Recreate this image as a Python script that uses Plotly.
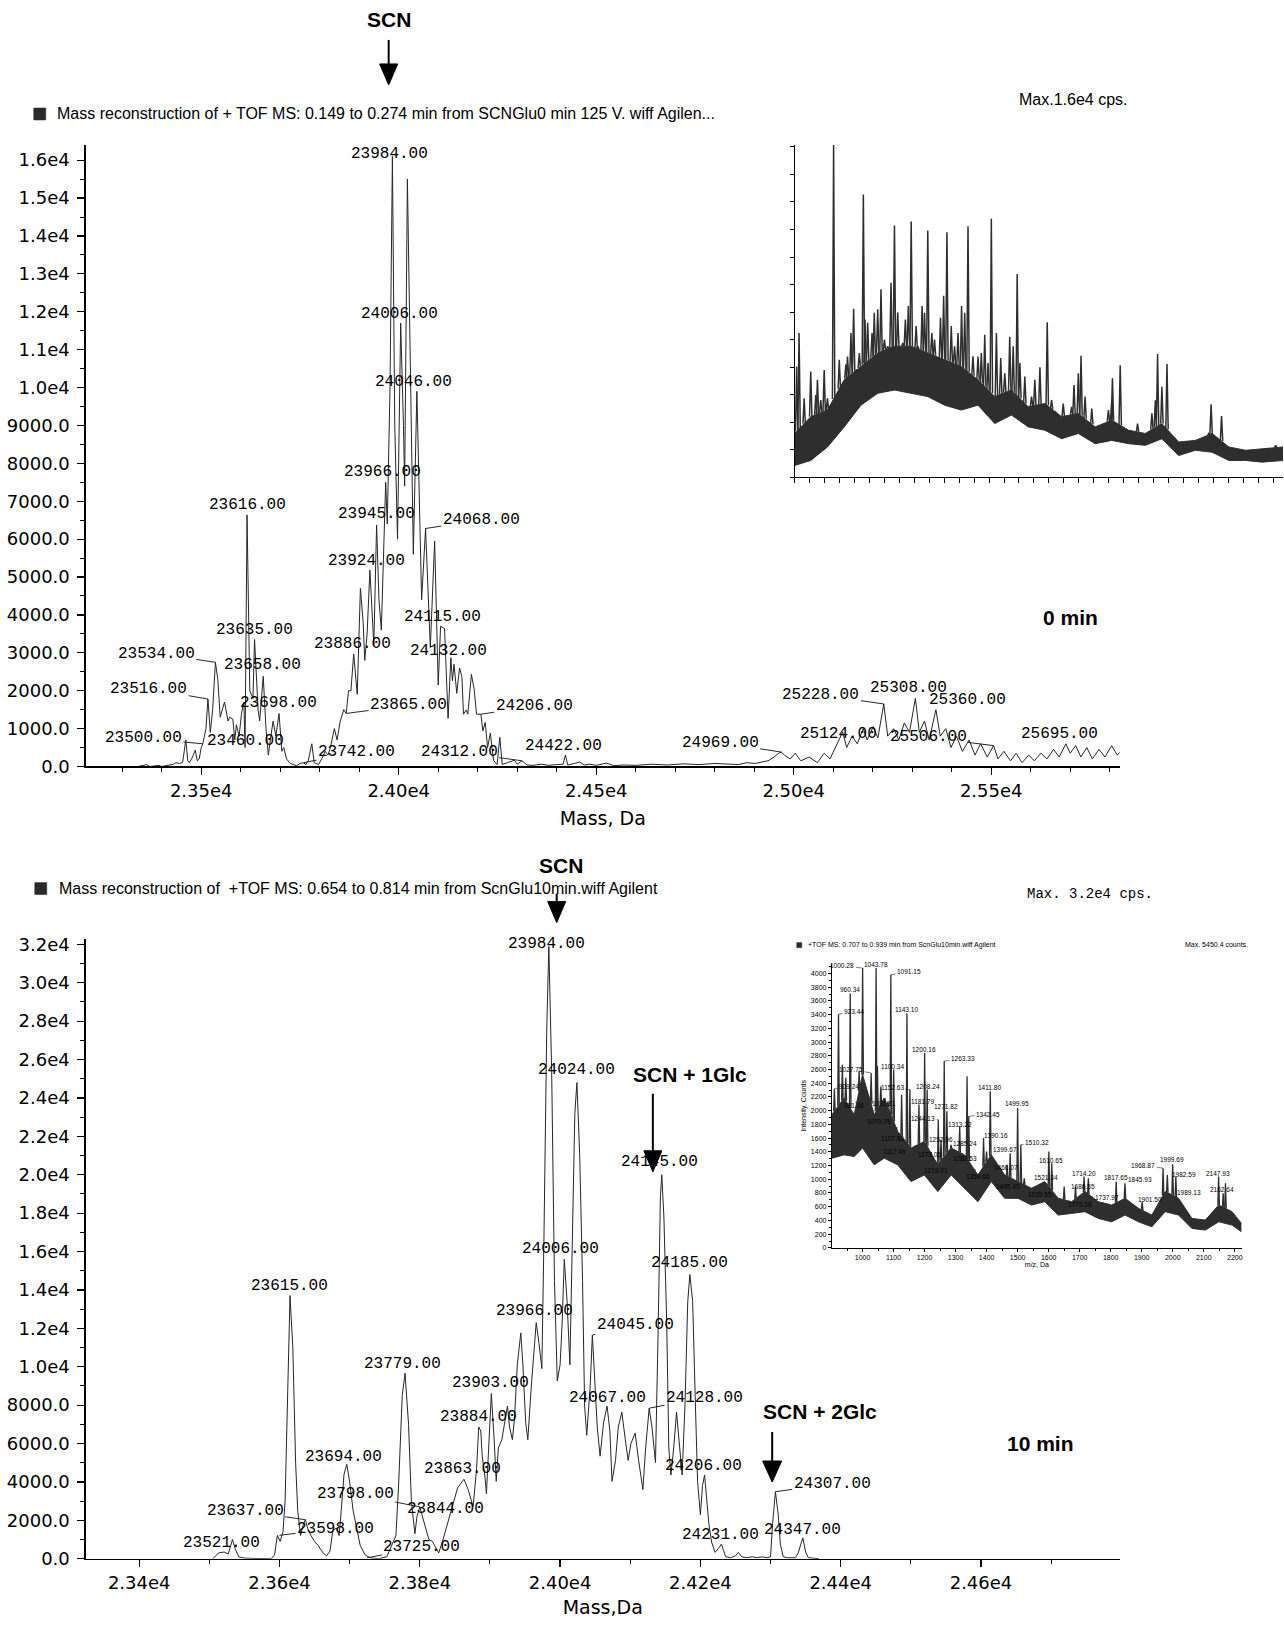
import plotly.graph_objects as go
import numpy as np

W, H = 1284, 1625
XS, XO = 0.9966, 4.35
YS, YO = 0.990, 5.1


def px(x):
    return min(1.0, ((x - XO) / XS) / W)


def py(y):
    return 1 - ((y - YO) / YS) / H


# ---------------- DATA ----------------
# 0 min reconstructed mass spectrum (Mass, Da vs intensity)
top_mass = [23340, 23362, 23370, 23393, 23400, 23419, 23430, 23436, 23445, 23453, 23461, 23466, 23470, 23478,
            23485, 23490, 23495, 23500, 23504, 23512, 23517, 23523, 23529, 23536, 23542, 23548, 23559, 23568,
            23572, 23580, 23585, 23589, 23596, 23602, 23608, 23611, 23616, 23623, 23631, 23635, 23644, 23648,
            23657, 23664, 23670, 23675, 23682, 23689, 23697, 23704, 23709, 23716, 23725, 23742, 23750, 23759,
            23765, 23771, 23780, 23786, 23797, 23805, 23814, 23821, 23827, 23837, 23844, 23852, 23861, 23867,
            23873, 23879, 23886, 23895, 23903, 23910, 23914, 23920, 23927, 23933, 23937, 23944, 23950, 23956,
            23963, 23967, 23971, 23978, 23984, 23990, 23997, 24005, 24012, 24015, 24022, 24031, 24037, 24046,
            24052, 24058, 24068, 24080, 24091, 24100, 24106, 24116, 24125, 24132, 24136, 24140, 24147, 24154,
            24160, 24164, 24171, 24175, 24184, 24191, 24197, 24208, 24213, 24219, 24225, 24232, 24240, 24249,
            24256, 24262, 24275, 24293, 24300, 24312, 24325, 24340, 24362, 24380, 24400, 24416, 24422, 24428,
            24445, 24458, 24470, 24484, 24500, 24526, 24545, 24568, 24600, 24640, 24680, 24720, 24760, 24800,
            24840, 24861, 24880, 24903, 24920, 24935, 24950, 24962, 24969, 24976, 24991, 25004, 25018, 25039,
            25060, 25077, 25092, 25109, 25124, 25134, 25148, 25161, 25176, 25186, 25201, 25213, 25228, 25238,
            25253, 25266, 25280, 25293, 25308, 25318, 25331, 25343, 25360, 25371, 25385, 25398, 25412, 25427,
            25444, 25459, 25473, 25490, 25506, 25517, 25532, 25549, 25563, 25578, 25595, 25609, 25626, 25641,
            25658, 25672, 25689, 25700, 25714, 25727, 25742, 25756, 25773, 25788, 25805, 25819, 25836]
top_int = [0, 50, 0, 30, 0, 40, 60, 100, 80, 110, 700, 150, 100, 250,
           430, 150, 200, 500, 600, 1000, 1780, 900, 1500, 2750, 2300, 1300, 1700, 1200,
           1300, 1250, 700, 1100, 800, 1400, 1700, 500, 6640, 2000, 1800, 3350, 1500, 1200,
           2380, 1000, 300, 700, 1200, 800, 1400, 400, 500, 200, 80, 20, 80, 100,
           50, 150, 600, 100, 50, 200, 400, 300, 500, 1000, 700, 1200, 1500, 1400,
           2000, 2000, 2970, 1900, 4700, 3800, 2800, 3500, 5180, 4000, 3200, 6370, 4400, 3600,
           6500, 7500, 6400, 10000, 16100, 9000, 6000, 11700, 9000, 7400, 15500, 10000, 5600, 9900,
           7000, 4400, 6280, 3140, 5950, 2150, 3700, 3640, 1270, 2870, 2260, 2700, 1930, 2600,
           2370, 1380, 1490, 1380, 2430, 2040, 1380, 1380, 940, 1160, 500, 880, 165, 50,
           770, 55, 100, 165, 60, 150, 40, 30, 60, 30, 50, 60, 300, 40,
           80, 120, 40, 60, 30, 90, 20, 40, 30, 60, 40, 70, 50, 80,
           60, 50, 100, 80, 120, 150, 250, 350, 380, 300, 200, 350, 150, 250,
           100, 350, 200, 600, 910, 500, 800, 600, 1000, 700, 1050, 750, 1650, 800,
           1000, 700, 1150, 900, 1800, 900, 1200, 700, 1500, 800, 1000, 500, 800, 400,
           700, 300, 600, 250, 550, 200, 400, 150, 350, 100, 300, 150, 350, 200,
           450, 250, 600, 350, 550, 250, 500, 200, 450, 250, 550, 300, 500]

# 10 min reconstructed mass spectrum
bot_mass = [23505, 23513, 23521, 23527, 23533, 23537, 23542, 23550, 23559, 23588, 23593, 23597, 23601, 23605,
            23608, 23612, 23615, 23619, 23623, 23626, 23630, 23634, 23637, 23640, 23645, 23650, 23655, 23662,
            23667, 23672, 23676, 23681, 23685, 23688, 23692, 23696, 23700, 23705, 23710, 23715, 23722, 23729,
            23741, 23753, 23760, 23766, 23770, 23775, 23779, 23784, 23788, 23793, 23796, 23800, 23803, 23807,
            23813, 23818, 23823, 23827, 23833, 23840, 23847, 23854, 23863, 23869, 23876, 23881, 23884, 23887,
            23889, 23893, 23895, 23898, 23902, 23906, 23909, 23912, 23917, 23922, 23925, 23928, 23932, 23935,
            23939, 23944, 23947, 23951, 23954, 23959, 23963, 23966, 23970, 23974, 23977, 23981, 23984, 23988,
            23992, 23996, 24000, 24003, 24006, 24010, 24014, 24017, 24021, 24024, 24028, 24032, 24035, 24038,
            24043, 24046, 24050, 24053, 24057, 24062, 24067, 24071, 24074, 24079, 24083, 24088, 24093, 24097,
            24101, 24107, 24112, 24118, 24122, 24127, 24131, 24136, 24140, 24143, 24145, 24148, 24152, 24155,
            24158, 24162, 24166, 24170, 24174, 24178, 24182, 24185, 24189, 24193, 24196, 24200, 24203, 24206,
            24209, 24212, 24216, 24221, 24226, 24230, 24233, 24236, 24243, 24250, 24254, 24259, 24266, 24274,
            24281, 24288, 24295, 24300, 24303, 24307, 24311, 24314, 24318, 24324, 24335, 24339, 24346, 24350,
            24354, 24369]
bot_int = [0, 300, 350, 250, 1000, 500, 100, 30, 20, 0, 200, 1220, 900, 1400,
           3000, 10000, 13700, 11000, 5000, 2500, 1200, 1800, 2030, 1600, 1200, 900, 700, 300,
           150, 400, 1450, 1600, 1200, 2500, 4400, 4920, 4000, 2500, 1500, 700, 200, 50,
           0, 100, 700, 1200, 4000, 8500, 9660, 7000, 3000, 1300, 2200, 2700, 2300, 1800,
           1000, 900, 600, 300, 980, 1850, 2720, 3700, 4140, 3600, 2720, 4680, 6860, 6650,
           5340, 4250, 3380, 5500, 8600, 6200, 4030, 5770, 6200, 7300, 7950, 6860, 6200, 7300,
           10100, 11760, 10100, 7080, 6200, 9000, 11200, 12300, 11200, 9900, 16700, 27600, 31900, 25400,
           14500, 9260, 10100, 12300, 15600, 13400, 10100, 16700, 23200, 24800, 21000, 14500, 7950, 6430,
           9040, 11650, 9040, 6860, 5340, 7080, 7950, 6650, 4030, 5120, 6860, 7630, 6200, 5120,
           6000, 6540, 5120, 3600, 5770, 7840, 6860, 5010, 12300, 18850, 20000, 17800, 12300, 5770,
           4360, 5770, 7630, 6000, 4360, 7950, 13400, 14800, 13400, 7950, 4030, 2290, 3810, 4360,
           3160, 1850, 870, 330, 545, 760, 435, 110, 50, 150, 330, 100, 50, 100,
           50, 100, 50, 100, 1850, 3490, 2290, 760, 110, 50, 50, 250, 1090, 350,
           50, 0]

# inset of the 0 min run (raw spectrum, read in tick-mark units)
ti_x = [0, 1.07, 2.19, 3.31, 4.43, 5.55, 6.67, 7.79, 8.90, 10.02, 11.14, 12.26, 13.38, 14.50, 15.62,
        16.73, 17.85, 18.97, 20.09, 21.21, 22.33, 23.45, 24.56, 25.68, 26.80, 27.92, 29.04, 30.16,
        31.27, 32.66]
ti_low = [0.43, 0.61, 1.10, 1.83, 2.62, 3.05, 3.17, 3.05, 2.93, 2.62, 2.44, 2.62, 1.95, 2.26, 1.83,
          1.71, 1.40, 1.59, 1.22, 1.34, 1.22, 1.16, 1.40, 0.79, 0.98, 0.91, 0.61, 0.61, 0.55, 0.61]
ti_high = [1.59, 2.20, 2.44, 3.54, 4.02, 4.51, 4.76, 4.76, 4.51, 4.27, 4.02, 3.54, 2.93, 3.17, 2.56,
           2.68, 2.20, 2.32, 1.83, 2.07, 1.71, 1.59, 1.95, 1.28, 1.34, 1.59, 1.10, 0.98, 1.04, 1.10]
ti_spike_x = [0.13, 0.29, 0.63, 1.07, 1.41, 1.52, 1.74, 1.97, 2.19, 2.60, 2.98, 3.42, 3.53, 3.76, 3.94,
              4.20, 4.32, 4.59, 4.70, 4.88, 5.17, 5.32, 5.55, 5.77, 6.00, 6.22, 6.44, 6.67, 6.89, 7.23,
              7.40, 7.60, 7.79, 8.12, 8.23, 8.52, 8.68, 8.90, 9.17, 9.35, 9.75, 9.96, 10.18, 10.47,
              10.69, 10.92, 11.16, 11.37, 11.59, 11.92, 12.26, 12.48, 12.71, 12.93, 13.15, 13.49,
              13.78, 14.05, 14.38, 14.61, 14.88, 15.06, 15.39, 15.84, 16.06, 16.40, 16.89, 17.18,
              17.40, 17.96, 18.52, 18.68, 18.97, 19.15, 19.42, 19.87, 20.98, 21.21, 21.25, 21.77,
              22.93, 23.89, 24.12, 24.27, 24.56, 24.90, 27.70, 27.85, 28.55, 31.70, 32.17]
ti_spike_h = [4.02, 5.24, 2.87, 3.84, 2.99, 3.54, 2.80, 3.90, 2.87, 12.07, 4.27, 4.09, 4.39, 5.24, 6.12,
              3.78, 4.51, 10.27, 5.73, 5.61, 5.24, 5.98, 6.10, 6.83, 5.00, 4.76, 7.07, 9.15, 5.98, 4.88,
              5.73, 6.22, 9.29, 5.49, 4.76, 6.22, 5.98, 8.96, 5.24, 5.00, 5.79, 6.59, 8.90, 5.49,
              4.76, 5.24, 6.22, 5.98, 9.12, 4.39, 4.39, 4.51, 5.18, 4.15, 9.39, 5.24,
              4.33, 3.78, 5.10, 4.76, 7.38, 4.15, 3.66, 2.93, 3.54, 4.00, 5.63, 2.80,
              2.32, 2.68, 2.56, 3.35, 3.78, 4.41, 2.93, 2.50, 2.44, 2.80, 3.60, 4.07,
              1.95, 2.32, 2.80, 4.48, 3.29, 4.11, 1.59, 2.65, 2.22, 0.98, 1.16]

# inset of the 10 min run (m/z, Da vs Intensity, Counts)
bi_mz = [901, 940.7, 973, 1000, 1037.7, 1070, 1113.2, 1156.3, 1199.5, 1242.6, 1285.7, 1328.8, 1372,
         1415.1, 1458.2, 1501.3, 1544.5, 1587.6, 1630.7, 1673.9, 1717, 1760.1, 1803.2, 1846.4, 1889.5,
         1932.6, 1975.7, 2018.9, 2062, 2105.1, 2148.2, 2191.4, 2221.5]
bi_low = [1307, 1356, 1332, 1454, 1210, 1307, 1210, 966, 1063, 820, 1063, 868, 673, 966, 722, 722, 624,
          673, 478, 502, 527, 429, 380, 478, 380, 307, 527, 478, 283, 259, 380, 332, 234]
bi_high = [1941, 2185, 1941, 2527, 1941, 2185, 1698, 1454, 1551, 1210, 1454, 1356, 1063, 1356, 1063, 966,
           868, 966, 722, 673, 820, 673, 624, 722, 576, 478, 820, 722, 429, 405, 624, 527, 356]
bi_spike_mz = [909.24, 922.5, 935, 946, 960.34, 981.68, 989, 1000.28, 1027.75, 1043.78, 1048, 1059,
               1070.75, 1081.81, 1091.15, 1100.34, 1107.85, 1117.49, 1126, 1143.10, 1152.63, 1173.05,
               1181.79, 1200.16, 1208.24, 1219.01, 1244.13, 1252.96, 1263.33, 1271.82, 1282.53, 1285.24,
               1313.22, 1337, 1342.45, 1359.66, 1390.16, 1399.67, 1411.80, 1445.45, 1466.07, 1476,
               1499.95, 1510.32, 1521.34, 1539.55, 1600.65, 1610, 1650, 1686.55, 1714.20, 1728, 1737.97,
               1773.58, 1817.65, 1845.93, 1901.50, 1968.87, 1982.59, 1989.13, 1999.69, 2010, 2147.93,
               2162.64, 2170]
bi_spike_int = [2320, 3405, 2670, 2480, 3707, 2088, 2580, 4078, 2550, 4078, 2650, 2350,
                1844, 2137, 3980, 2600, 1624, 1454, 2230, 3415, 2307, 1356,
                2088, 2844, 2307, 1137, 1868, 1576, 2722, 1990, 1307, 1502,
                1771, 2502, 1917, 1063, 1600, 1405, 2283, 966, 1210, 1380,
                2039, 1502, 1015, 820, 1405, 1234, 893, 893, 1039, 1015, 722,
                649, 966, 941, 673, 1161, 1063, 795, 1220, 1039, 1039,
                795, 941]

top_xtick_vals = [23500, 24000, 24500, 25000, 25500]
top_xtick_text = ["2.35e4", "2.40e4", "2.45e4", "2.50e4", "2.55e4"]
top_ytick_vals = list(range(0, 16001, 1000))
top_ytick_text = ["0.0", "1000.0", "2000.0", "3000.0", "4000.0", "5000.0", "6000.0", "7000.0", "8000.0",
                  "9000.0", "1.0e4", "1.1e4", "1.2e4", "1.3e4", "1.4e4", "1.5e4", "1.6e4"]
bot_xtick_vals = [23400, 23600, 23800, 24000, 24200, 24400, 24600]
bot_xtick_text = ["2.34e4", "2.36e4", "2.38e4", "2.40e4", "2.42e4", "2.44e4", "2.46e4"]
bot_ytick_vals = list(range(0, 32001, 2000))
bot_ytick_text = ["0.0", "2000.0", "4000.0", "6000.0", "8000.0", "1.0e4", "1.2e4", "1.4e4", "1.6e4",
                  "1.8e4", "2.0e4", "2.2e4", "2.4e4", "2.6e4", "2.8e4", "3.0e4", "3.2e4"]

# peak labels: (mass, label x, label y, leader head or None)
top_labels = [
    (23984, 23977, 16465, None), (24006, 24001, 11950, None), (24046, 24038, 10150, None),
    (23966, 23959, 7770, None), (23616, 23617, 6890, None), (23945, 23943, 6650, None),
    (24068, 24209, 6510, (24068, 6280)), (23924, 23919, 5415, None), (24115, 24111, 3940, None),
    (23635, 23635, 3610, None), (23534, 23386, 2980, (23536, 2750)), (23886, 23883, 3230, None),
    (24132, 24125, 3060, None), (23658, 23656, 2680, None), (23516, 23367, 2050, (23517, 1780)),
    (25228, 25069, 1890, (25228, 1650)), (25308, 25290, 2080, None), (25360, 25440, 1750, (25360, 1500)),
    (23698, 23696, 1670, None), (23865, 24025, 1615, (23867, 1400)), (24206, 24343, 1590, (24208, 1380)),
    (25124, 25113, 850, None), (25506, 25340, 770, (25506, 550)), (25695, 25674, 850, None),
    (24969, 24814, 630, (24969, 380)), (23500, 23354, 740, (23504, 600)), (23460, 23612, 680, None),
    (23742, 23893, 380, (23759, 100)), (24312, 24153, 380, (24312, 150)), (24422, 24416, 550, None),
]
bot_labels = [
    (23984, 23981, 32590, None), (24024, 24024, 25450, None), (24145, 24142, 20680, None),
    (24006, 24001, 16130, None), (24185, 24184, 15380, None), (23615, 23614, 14180, None),
    (23966, 23964, 12890, None), (24045, 24107, 12180, (24046, 11650)), (23779, 23776, 10120, None),
    (23903, 23901, 9150, None), (24067, 24067, 8390, None), (24128, 24206, 8390, (24127, 7840)),
    (23884, 23883, 7360, None), (23694, 23691, 5310, None), (24206, 24204, 4820, None),
    (23863, 23861, 4660, None), (24307, 24388, 3900, (24307, 3490)), (23798, 23708, 3360, (23800, 2700)),
    (23844, 23837, 2600, None), (23637, 23551, 2490, (23637, 2030)), (24347, 24345, 1516, None),
    (23598, 23680, 1570, (23600, 1220)), (24231, 24228, 1245, None), (23521, 23517, 812, None),
    (23725, 23803, 595, (23725, 50)),
]
inset_labels = [
    ("1000.28", 935.3, 4112, (1000.28, 4078)), ("1043.78", 1043.1, 4137, None),
    ("1091.15", 1151, 4029, (1091.15, 3980)), ("960.34", 960.1, 3771, None),
    ("923.44", 973, 3444, (922.5, 3405)), ("1143.10", 1140.2, 3478, None),
    ("1200.16", 1199.5, 2893, None), ("1263.33", 1323.5, 2756, (1263.33, 2722)),
    ("1027.75", 962.3, 2600, (1027.75, 2550)), ("1100.34", 1097, 2644, None),
    ("909.24", 956.9, 2356, (909.24, 2320)), ("1152.63", 1097, 2332, (1152.63, 2307)),
    ("1208.24", 1210.2, 2346, None), ("1411.80", 1409.7, 2332, None),
    ("981.68", 973, 2073, None), ("1081.81", 1070, 2102, None), ("1181.79", 1194, 2127, None),
    ("1271.82", 1269.5, 2054, None), ("1499.95", 1498, 2102, None), ("1070.75", 1054, 1844, None),
    ("1244.13", 1196, 1893, (1244.13, 1868)), ("1342.45", 1404, 1951, (1342.45, 1917)),
    ("1313.22", 1312.7, 1805, None), ("1107.85", 1097, 1600, None), ("1252.96", 1253.4, 1576, None),
    ("1390.16", 1431, 1634, (1390.16, 1600)), ("1285.24", 1328.8, 1517, None),
    ("1510.32", 1562.8, 1541, (1510.32, 1502)), ("1117.49", 1102.4, 1405, None),
    ("1173.05", 1215.6, 1356, None), ("1399.67", 1458, 1429, None), ("1282.53", 1328.8, 1298, None),
    ("1610.65", 1609, 1268, None), ("1219.01", 1237, 1127, None), ("1466.07", 1463.6, 1176, None),
    ("1359.66", 1372, 1039, None), ("1521.34", 1593, 1029, None), ("1714.20", 1714.8, 1078, None),
    ("1968.87", 1905.7, 1205, (1968.87, 1161)), ("1999.69", 1997.3, 1283, None),
    ("1982.59", 2035, 1063, None), ("2147.93", 2146, 1088, None), ("1445.45", 1469, 893, None),
    ("1686.55", 1711.6, 893, None), ("1817.65", 1816, 1029, None), ("1845.93", 1894.9, 990, None),
    ("1539.55", 1571.4, 771, None), ("1737.97", 1787, 741, None), ("1901.50", 1927, 712, None),
    ("1773.58", 1700.8, 639, None), ("1989.13", 2051.2, 810, None), ("2162.64", 2159, 854, None),
]

# ---------------- FIGURE ----------------
INK = '#262626'
fig = go.Figure()

fig.add_trace(go.Scatter(x=top_mass, y=top_int, mode='lines', line=dict(color=INK, width=1),
                         xaxis='x', yaxis='y', showlegend=False, hoverinfo='skip'))
fig.add_trace(go.Scatter(x=bot_mass, y=bot_int, mode='lines', line=dict(color=INK, width=1),
                         xaxis='x3', yaxis='y3', showlegend=False, hoverinfo='skip'))


def spikes(sx, sh, env_x, env_y, w):
    xs, ys = [], []
    for x, h in zip(sx, sh):
        b = float(np.interp(x, env_x, env_y))
        xs += [x - w, x, x + w, None]
        ys += [b, h, b, None]
    return xs, ys


BAND = '#2e2e2e'
fig.add_trace(go.Scatter(x=ti_x, y=ti_low, mode='lines', line=dict(color=BAND, width=1),
                         xaxis='x2', yaxis='y2', showlegend=False, hoverinfo='skip'))
fig.add_trace(go.Scatter(x=ti_x, y=ti_high, mode='lines', line=dict(color=BAND, width=1), fill='tonexty',
                         fillcolor=BAND, xaxis='x2', yaxis='y2', showlegend=False, hoverinfo='skip'))
sx, sy = spikes(ti_spike_x, ti_spike_h, ti_x, ti_high, 0.08)
fig.add_trace(go.Scatter(x=sx, y=sy, mode='lines', line=dict(color=BAND, width=1.5),
                         xaxis='x2', yaxis='y2', showlegend=False, hoverinfo='skip'))
fig.add_trace(go.Scatter(x=bi_mz, y=bi_low, mode='lines', line=dict(color=BAND, width=1),
                         xaxis='x4', yaxis='y4', showlegend=False, hoverinfo='skip'))
fig.add_trace(go.Scatter(x=bi_mz, y=bi_high, mode='lines', line=dict(color=BAND, width=1), fill='tonexty',
                         fillcolor=BAND, xaxis='x4', yaxis='y4', showlegend=False, hoverinfo='skip'))
sx, sy = spikes(bi_spike_mz, bi_spike_int, bi_mz, bi_high, 2.5)
fig.add_trace(go.Scatter(x=sx, y=sy, mode='lines', line=dict(color=BAND, width=1.3),
                         xaxis='x4', yaxis='y4', showlegend=False, hoverinfo='skip'))

TICKF = dict(family='DejaVu Sans', size=18, color='black')
main_ax = dict(showline=True, linecolor='black', linewidth=1.5, ticks='outside', tickcolor='black',
               ticklen=7, tickwidth=1.2, showgrid=False, zeroline=False, tickfont=TICKF, fixedrange=True)
TITLEF = dict(family='DejaVu Sans', size=19, color='black')
TOP_YMAX = 16400
BOT_YMAX = 32300
SMALLTF = dict(family='Liberation Sans', size=7, color='black')

layout = dict(
    width=W, height=H, margin=dict(l=0, r=0, t=0, b=0), autosize=False,
    paper_bgcolor='white', plot_bgcolor='white', showlegend=False,
    xaxis=dict(main_ax, domain=[px(90), px(1121)], range=[23208, 25825], anchor='y',
               tickmode='array', tickvals=top_xtick_vals, ticktext=top_xtick_text,
               minor=dict(tickmode='linear', tick0=23000, dtick=100, ticks='outside', ticklen=4,
                          tickcolor='black', tickwidth=1),
               title=dict(text='Mass, Da', font=TITLEF, standoff=12)),
    yaxis=dict(main_ax, domain=[py(766), py(145)], range=[0, TOP_YMAX], anchor='x',
               tickmode='array', tickvals=top_ytick_vals, ticktext=top_ytick_text, ticklabelstandoff=4,
               minor=dict(tickmode='linear', tick0=0, dtick=500, ticks='outside', ticklen=4,
                          tickcolor='black', tickwidth=1)),
    xaxis3=dict(main_ax, domain=[px(90), px(1121)], range=[23324, 24797.6], anchor='y3',
                tickmode='array', tickvals=bot_xtick_vals, ticktext=bot_xtick_text,
                minor=dict(tickmode='linear', tick0=23000, dtick=100, ticks='outside', ticklen=4,
                           tickcolor='black', tickwidth=1),
                title=dict(text='Mass,Da', font=TITLEF, standoff=9)),
    yaxis3=dict(main_ax, domain=[py(1557.6), py(938)], range=[0, BOT_YMAX], anchor='x3',
                tickmode='array', tickvals=bot_ytick_vals, ticktext=bot_ytick_text, ticklabelstandoff=4,
                minor=dict(tickmode='linear', tick0=0, dtick=1000, ticks='outside', ticklen=4,
                           tickcolor='black', tickwidth=1)),
    xaxis2=dict(domain=[px(797), 1.0], range=[0, 32.66], anchor='y2',
                showline=True, linecolor='black',
                linewidth=1, ticks='outside', ticklen=5, tickcolor='black', dtick=1, tick0=0,
                showticklabels=False, showgrid=False, zeroline=False, fixedrange=True),
    yaxis2=dict(domain=[py(477), py(145)], range=[0, 12.07], anchor='x2', showline=True, linecolor='black',
                linewidth=1, ticks='outside', ticklen=4, tickcolor='black', dtick=1, tick0=0,
                showticklabels=False, showgrid=False, zeroline=False, fixedrange=True),
    xaxis4=dict(domain=[px(834), px(1243)], range=[901, 2223], anchor='y4', showline=True, linecolor='black',
                linewidth=1, ticks='outside', ticklen=3, tickcolor='black', tickmode='linear', tick0=1000,
                dtick=100, tickfont=SMALLTF,
                minor=dict(tickmode='linear', tick0=1000, dtick=50, ticks='outside', ticklen=2,
                           tickcolor='black'),
                showgrid=False, zeroline=False, fixedrange=True,
                title=dict(text='m/z, Da', font=SMALLTF, standoff=1)),
    yaxis4=dict(domain=[py(1247), py(963)], range=[0, 4143], anchor='x4', showline=True, linecolor='black',
                linewidth=1, ticks='outside', ticklen=3, tickcolor='black', tickmode='linear', tick0=0,
                dtick=200, tickfont=SMALLTF,
                minor=dict(tickmode='linear', tick0=0, dtick=100, ticks='outside', ticklen=2,
                           tickcolor='black'),
                showgrid=False, zeroline=False, fixedrange=True,
                title=dict(text='Intensity, Counts', font=SMALLTF, standoff=3)),
)
fig.update_layout(**layout)

ann = []
LABF = dict(family='Liberation Mono', size=16, color='black')


def add_peak_labels(labels, xr, yr, ymax):
    for mass, lx, ly, head in labels:
        txt = f"{mass:.2f}"
        if head is None:
            if ly > ymax:
                ann.append(dict(x=lx, y=ly / ymax, xref=xr, yref=yr + ' domain', text=txt,
                                showarrow=False, font=LABF))
            else:
                ann.append(dict(x=lx, y=ly, xref=xr, yref=yr, text=txt, showarrow=False, font=LABF))
        else:
            ann.append(dict(x=head[0], y=head[1], xref=xr, yref=yr, ax=lx, ay=ly, axref=xr, ayref=yr,
                            text=txt, showarrow=True, arrowhead=0, arrowwidth=1, arrowcolor=INK,
                            standoff=0, font=LABF))


add_peak_labels(top_labels, 'x', 'y', TOP_YMAX)
add_peak_labels(bot_labels, 'x3', 'y3', BOT_YMAX)

SMALLF = dict(family='Liberation Sans', size=6.5, color='black')
for txt, lx, ly, head in inset_labels:
    if head is None:
        ann.append(dict(x=lx, y=ly, xref='x4', yref='y4', text=txt, showarrow=False, font=SMALLF))
    else:
        ann.append(dict(x=head[0], y=head[1], xref='x4', yref='y4', ax=lx, ay=ly, axref='x4', ayref='y4',
                        text=txt, showarrow=True, arrowhead=0, arrowwidth=0.6, arrowcolor=INK,
                        standoff=0, font=SMALLF))


def ptext(x, y, text, font, xanchor='center'):
    ann.append(dict(x=px(x), y=py(y), xref='paper', yref='paper', text=text, showarrow=False,
                    font=font, xanchor=xanchor, yanchor='middle'))


HDRF = dict(family='Liberation Sans', size=16, color='black')
BOLDF = dict(family='Liberation Sans', size=21, color='black', weight='bold')
ptext(59, 114, 'Mass reconstruction of + TOF MS: 0.149 to 0.274 min from SCNGlu0 min 125 V. wiff Agilen...',
      HDRF, 'left')
ptext(61, 888, 'Mass reconstruction of \u00a0+TOF MS: 0.654 to 0.814 min from ScnGlu10min.wiff Agilent',
      HDRF, 'left')
ptext(392, 20, 'SCN', BOLDF)
ptext(564, 865, 'SCN', BOLDF)
ptext(693, 1074, 'SCN + 1Glc', BOLDF)
ptext(822, 1411, 'SCN + 2Glc', BOLDF)
ptext(1072, 617, '0 min', BOLDF)
ptext(1042, 1442, '10 min', BOLDF)
ptext(1075, 100, 'Max.1.6e4 cps.', dict(family='Liberation Sans', size=16, color='black'))
ptext(1091, 893, 'Max. 3.2e4 cps.', dict(family='Liberation Mono', size=14, color='black'))
ptext(808, 944, '+TOF MS: 0.707 to 0.939 min from ScnGlu10min.wiff Agilent', SMALLTF, 'left')
ptext(1218, 944, 'Max. 5450.4 counts.', SMALLTF)

fig.update_layout(annotations=ann)

shapes = []


def square(x0, y0, x1, y1):
    shapes.append(dict(type='rect', xref='paper', yref='paper', x0=px(x0), x1=px(x1), y0=py(y1), y1=py(y0),
                       fillcolor='#2a2a2a', line=dict(color='#2a2a2a', width=0.5)))


square(38, 108, 50, 120)
square(39, 882, 51, 894)
square(799, 942, 804, 947)


def arrow(xc, y0, y1, hh, hw):
    shapes.append(dict(type='line', xref='paper', yref='paper', x0=px(xc), x1=px(xc), y0=py(y0),
                       y1=py(y1 - hh + 2), line=dict(color='black', width=2)))
    path = (f"M {px(xc - hw / 2)},{py(y1 - hh)} L {px(xc + hw / 2)},{py(y1 - hh)} "
            f"L {px(xc)},{py(y1)} Z")
    shapes.append(dict(type='path', xref='paper', yref='paper', path=path, fillcolor='black',
                       line=dict(color='black', width=1)))


arrow(392, 40, 85, 21, 18)
arrow(559.6, 893, 922, 21, 18)
arrow(655.5, 1093, 1171, 21, 18)
arrow(774.5, 1431, 1481, 21, 19)

fig.update_layout(shapes=shapes)
fig.write_html("out.html", config={'displayModeBar': False, 'staticPlot': True},
               post_script="document.body.style.margin='0px';document.body.style.overflow='hidden';")
